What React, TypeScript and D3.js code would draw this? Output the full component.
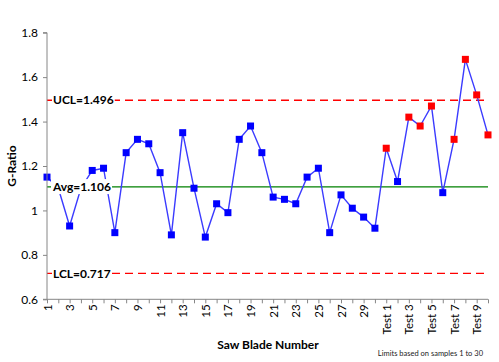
import * as d3 from 'd3'
import { useEffect, useRef } from 'react'

const categories = [
  '1', '2', '3', '4', '5', '6', '7', '8', '9', '10',
  '11', '12', '13', '14', '15', '16', '17', '18', '19', '20',
  '21', '22', '23', '24', '25', '26', '27', '28', '29', '30',
  'Test 1', 'Test 2', 'Test 3', 'Test 4', 'Test 5',
  'Test 6', 'Test 7', 'Test 8', 'Test 9', 'Test 10',
]
const gRatio = [
  1.15, 1.1, 0.93, 1.1, 1.18, 1.19, 0.9, 1.26, 1.32, 1.3,
  1.17, 0.89, 1.35, 1.1, 0.88, 1.03, 0.99, 1.32, 1.38, 1.26,
  1.06, 1.05, 1.03, 1.15, 1.19, 0.9, 1.07, 1.01, 0.97, 0.92,
  1.28, 1.13, 1.42, 1.38, 1.47, 1.08, 1.32, 1.68, 1.52, 1.34,
]
// points flagged out of control (drawn red)
const flagged = ['Test 1', 'Test 3', 'Test 4', 'Test 5', 'Test 7', 'Test 8', 'Test 9', 'Test 10']
const yTicks = [0.6, 0.8, 1, 1.2, 1.4, 1.6, 1.8]
const limits = [
  { name: 'UCL', value: 1.496, color: '#ff0000', dash: '8,5' },
  { name: 'Avg', value: 1.106, color: '#008000', dash: null },
  { name: 'LCL', value: 0.717, color: '#ff0000', dash: '8,5' },
]

const W = 499
const H = 362
const FONT = 'Lato, "Open Sans", sans-serif'

export default function App() {
  const svgRef = useRef<SVGSVGElement>(null)

  useEffect(() => {
    if (!svgRef.current) return
    const svg = d3.select(svgRef.current)
    svg.selectAll('*').remove()

    const left = 47
    const right = 488
    const top = 32.7
    const bottom = 299.3

    const x = d3.scalePoint<string>().domain(categories).range([left, right])
    const y = d3.scaleLinear().domain([0.6, 1.8]).range([bottom, top])

    // limit lines
    limits.forEach((l) => {
      svg.append('line')
        .attr('x1', left).attr('x2', right)
        .attr('y1', y(l.value)).attr('y2', y(l.value))
        .attr('stroke', l.color)
        .attr('stroke-width', 1.3)
        .attr('stroke-dasharray', l.dash)
    })

    // data line
    const line = d3.line<number>()
      .x((_, i) => x(categories[i]) as number)
      .y((d) => y(d))
    svg.append('path')
      .attr('d', line(gRatio))
      .attr('fill', 'none')
      .attr('stroke', '#3b3bff')
      .attr('stroke-width', 1.4)

    // markers
    const s = 7
    svg.append('g')
      .selectAll('rect')
      .data(gRatio)
      .join('rect')
      .attr('x', (_, i) => (x(categories[i]) as number) - s / 2)
      .attr('y', (d) => y(d) - s / 2)
      .attr('width', s)
      .attr('height', s)
      .attr('fill', (_, i) => (flagged.includes(categories[i]) ? '#ff0000' : '#0000ff'))

    // limit labels with white box
    limits.forEach((l) => {
      const g = svg.append('g')
      const t = g.append('text')
        .attr('x', 53)
        .attr('y', y(l.value))
        .attr('dy', '0.35em')
        .attr('font-family', FONT)
        .attr('font-size', 12)
        .attr('font-weight', 'bold')
        .attr('fill', '#000')
        .text(`${l.name}=${l.value.toFixed(3)}`)
      const bb = (t.node() as SVGTextElement).getBBox()
      g.insert('rect', 'text')
        .attr('x', bb.x - 1).attr('y', bb.y)
        .attr('width', bb.width + 2).attr('height', bb.height)
        .attr('fill', '#fff')
    })

    // y axis
    const yAxis = svg.append('g')
      .attr('transform', `translate(${left},0)`)
      .call(d3.axisLeft(y).tickValues(yTicks).tickSize(4).tickPadding(5)
        .tickFormat((d) => d3.format('')(+d)))
    yAxis.select('.domain').attr('stroke', '#868686').attr('d', `M-4,${top}H0V${bottom}H-4`)
    yAxis.selectAll('.tick line').attr('stroke', '#868686')
    yAxis.selectAll('.tick text')
      .attr('font-family', FONT).attr('font-size', 12).attr('fill', '#000')

    // x axis
    const xAxis = svg.append('g')
      .attr('transform', `translate(0,${bottom})`)
      .call(d3.axisBottom(x).tickSize(4)
        .tickFormat((d, i) => (i % 2 === 0 ? d : '')))
    xAxis.select('.domain').attr('stroke', '#868686').attr('d', `M${left},0H${right}`)
    xAxis.selectAll('.tick line').attr('stroke', '#868686')
    xAxis.selectAll('.tick text')
      .attr('font-family', FONT).attr('font-size', 11.5).attr('fill', '#000')
      .attr('transform', 'rotate(-90)')
      .attr('text-anchor', 'end')
      .attr('x', -5).attr('y', 0).attr('dy', '0.35em')

    // titles
    svg.append('text')
      .attr('transform', `translate(16,${(top + bottom) / 2}) rotate(-90)`)
      .attr('text-anchor', 'middle')
      .attr('font-family', FONT).attr('font-size', 12).attr('font-weight', 'bold')
      .text('G-Ratio')
    svg.append('text')
      .attr('x', 268).attr('y', 349)
      .attr('text-anchor', 'middle')
      .attr('font-family', FONT).attr('font-size', 12).attr('font-weight', 'bold')
      .text('Saw Blade Number')
    svg.append('text')
      .attr('x', 483).attr('y', 356)
      .attr('text-anchor', 'end')
      .attr('font-family', FONT).attr('font-size', 7.5).attr('fill', '#222')
      .text('Limits based on samples 1 to 30')
  }, [])

  return (
    <svg
      ref={svgRef}
      width={W}
      height={H}
      style={{ position: 'absolute', left: 0, top: 0, background: '#fff' }}
    />
  )
}
